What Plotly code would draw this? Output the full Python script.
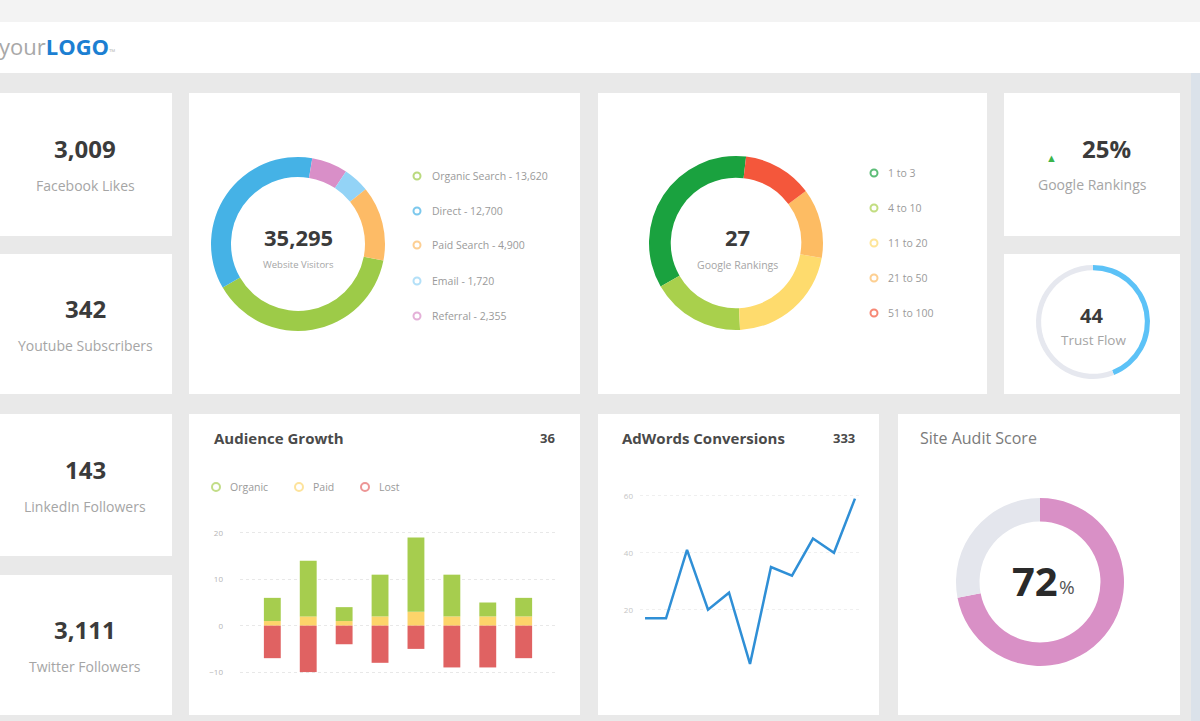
import plotly.graph_objects as go

W, H = 1200, 721

# ---------------- data ----------------
kpi_values = ["3,009", "342", "143", "3,111"]
kpi_labels = ["Facebook Likes", "Youtube Subscribers", "LinkedIn Followers", "Twitter Followers"]

visitor_total = "35,295"
visitor_labels = ["Organic Search", "Direct", "Paid Search", "Email", "Referral"]
visitor_values = [13620, 12700, 4900, 1720, 2355]
visitor_colors = ["#9dcb48", "#45b2e6", "#fdbb66", "#93d3f6", "#d98fc8"]
visitor_draw_order = [0, 1, 4, 3, 2]   # clockwise order around the ring

rank_total = "27"
rank_labels = ["1 to 3", "4 to 10", "11 to 20", "21 to 50", "51 to 100"]
rank_values = [9.5, 4.7, 5.8, 3.5, 3.5]
rank_colors = ["#1aa23f", "#a9d04c", "#fedb6d", "#fdbc63", "#f4573b"]

ranking_change = "25%"
trust_flow = 44
trust_max = 100

audience_total = "36"
aud_cats = ["1", "2", "3", "4", "5", "6", "7", "8"]
aud_organic = [5, 12, 3, 9, 16, 9, 3, 4]
aud_paid = [1, 2, 1, 2, 3, 2, 2, 2]
aud_lost = [-7, -10, -4, -8, -5, -9, -9, -7]
aud_ticks = [-10, 0, 10, 20]

adwords_total = "333"
adwords_days = list(range(11))
adwords_values = [17, 17, 41, 20, 26, 1, 35, 32, 45, 40, 59]
adwords_ticks = [20, 40, 60]

audit_score = 72

# ---------------- helpers ----------------
def fx(x):
    return x / W

def fy(y):
    return 1 - y / H

FONT = "Open Sans"
shapes = []
annotations = []

def rect(x0, y0, x1, y1, color):
    shapes.append(dict(type="rect", xref="paper", yref="paper",
                       x0=fx(x0), x1=fx(x1), y0=fy(y1), y1=fy(y0),
                       fillcolor=color, line=dict(width=0), layer="below"))

def text(x, y, s, size, color, anchor="center", bold=False):
    if bold:
        s = "<b>" + s + "</b>"
    annotations.append(dict(x=fx(x), y=fy(y), xref="paper", yref="paper", text=s,
                            showarrow=False, xanchor=anchor, yanchor="middle",
                            font=dict(family=FONT, size=size, color=color)))

def dot(x, y, color, r=4):
    shapes.append(dict(type="circle", xref="paper", yref="paper",
                       x0=fx(x - r), x1=fx(x + r), y0=fy(y + r), y1=fy(y - r),
                       fillcolor="rgba(255,255,255,0)", line=dict(width=2, color=color),
                       opacity=0.7, layer="above"))

# ---------------- background & cards ----------------
rect(0, 0, 1200, 22, "#f3f3f3")
rect(0, 22, 1200, 73, "#ffffff")
rect(1191, 73, 1200, 721, "#dbe2ea")

cards = [(0, 93, 172, 236), (0, 254, 172, 394), (0, 414, 172, 556), (0, 575, 172, 715),
         (189, 93, 580, 394), (598, 93, 987, 394), (1004, 93, 1180, 236), (1004, 254, 1180, 394),
         (189, 414, 580, 715), (598, 414, 879, 715), (898, 414, 1180, 715)]
for c in cards:
    rect(*c, "#ffffff")

# logo
annotations.append(dict(x=fx(-3), y=fy(46), xref="paper", yref="paper",
                        text="<span style='color:#a8a8a8'>your</span><b style='color:#1c7fd2'>LOGO</b><span style='color:#bbbbbb;font-size:8px'>™</span>",
                        showarrow=False, xanchor="left", yanchor="middle",
                        font=dict(family=FONT, size=22)))

# KPI cards
kpi_y = [148, 308, 469, 629]
for v, l, y in zip(kpi_values, kpi_labels, kpi_y):
    text(85, y, v, 24, "#3b3b3b", bold=True)
    text(85, y + 37, l, 14, "#a5a5a5")

# Google rankings change card
annotations.append(dict(x=fx(1059), y=fy(148), xref="paper", yref="paper", text="▲",
                        showarrow=False, font=dict(family=FONT, size=11, color="#3bb54a")))
text(1106, 148, ranking_change, 24, "#3b3b3b", bold=True)
text(1092, 184, "Google Rankings", 14, "#a5a5a5")

# ---------------- donuts ----------------
data = []

def donut(values, colors, cx, cy, r, hole, rotation=0, direction="clockwise"):
    data.append(go.Pie(values=values, marker=dict(colors=colors, line=dict(width=0)),
                       hole=hole, sort=False, direction=direction, rotation=rotation,
                       textinfo="none", hoverinfo="skip", showlegend=False,
                       domain=dict(x=[fx(cx - r), fx(cx + r)], y=[fy(cy + r), fy(cy - r)])))

donut([visitor_values[i] for i in visitor_draw_order],
      [visitor_colors[i] for i in visitor_draw_order], 298, 244, 87, 0.77, rotation=101)
text(298, 237, visitor_total, 22, "#3b3b3b", bold=True)
text(298, 264, "Website Visitors", 9.5, "#a5a5a5")
legend_y = [176, 211, 245, 281, 316]
for lab, val, col, y in zip(visitor_labels, visitor_values, visitor_colors, legend_y):
    dot(417, y, col, 3.5)
    text(430, y, f"{lab} - {val:,}", 10.5, "#9a9a9a", anchor="left")

donut(rank_values, rank_colors, 736, 243, 87, 0.75, rotation=-120, direction="counterclockwise")
text(737, 237, rank_total, 22, "#3b3b3b", bold=True)
text(737, 265, "Google Rankings", 10.5, "#a5a5a5")
legend_y2 = [173, 208, 243, 278, 313]
for lab, col, y in zip(rank_labels, rank_colors, legend_y2):
    dot(874, y, col, 3.5)
    text(886, y, lab, 10.5, "#9a9a9a", anchor="left")

donut([trust_flow, trust_max - trust_flow], ["#5cc2f7", "#e6e8ef"], 1093, 322, 57, 0.91)
text(1091, 315, str(trust_flow), 20, "#3b3b3b", bold=True)
text(1093, 340, "Trust Flow", 13.5, "#a5a5a5")

donut([audit_score, 100 - audit_score], ["#d990c6", "#e4e6ed"], 1040, 582, 84, 0.72)
text(1060, 580, str(audit_score), 40, "#2a2a2a", anchor="right", bold=True)
text(1057, 587, "%", 19, "#555555", anchor="left")
text(918, 438, "Site Audit Score", 16, "#7a7a7a", anchor="left")

# ---------------- Audience Growth ----------------
text(212, 438, "Audience Growth", 15, "#4a4a4a", anchor="left", bold=True)
text(557, 438, audience_total, 13, "#4a4a4a", anchor="right", bold=True)
for lab, col, x in [("Organic", "#a9cf55", 216), ("Paid", "#fdd873", 299), ("Lost", "#e66a6a", 365)]:
    dot(x, 487, col, 4)
    text(x + 12, 487, lab, 10.5, "#9a9a9a", anchor="left")

bar_w = 0.47
data.append(go.Bar(x=aud_cats, y=aud_paid, marker=dict(color="#fdd46a", line=dict(width=0)),
                   width=bar_w, xaxis="x", yaxis="y", showlegend=False, hoverinfo="skip"))
data.append(go.Bar(x=aud_cats, y=aud_organic, marker=dict(color="#a6cd4e", line=dict(width=0)),
                   width=bar_w, xaxis="x", yaxis="y", showlegend=False, hoverinfo="skip"))
data.append(go.Bar(x=aud_cats, y=aud_lost, marker=dict(color="#e06262", line=dict(width=0)),
                   width=bar_w, xaxis="x", yaxis="y", showlegend=False, hoverinfo="skip"))

# ---------------- AdWords Conversions ----------------
text(620, 438, "AdWords Conversions", 15, "#4a4a4a", anchor="left", bold=True)
text(857, 438, adwords_total, 13, "#4a4a4a", anchor="right", bold=True)
data.append(go.Scatter(x=adwords_days, y=adwords_values, mode="lines",
                       line=dict(color="#2f8fd6", width=2.5),
                       xaxis="x2", yaxis="y2", showlegend=False, hoverinfo="skip"))

layout = go.Layout(
    width=W, height=H, margin=dict(l=0, r=0, t=0, b=0),
    paper_bgcolor="#e9e9e9", plot_bgcolor="rgba(0,0,0,0)",
    barmode="relative", bargap=0.5,
    shapes=shapes, annotations=annotations,
    font=dict(family=FONT),
    xaxis=dict(domain=[fx(240), fx(556)], range=[-0.9, 7.9], showticklabels=False,
               showgrid=False, zeroline=False, showline=False, fixedrange=True),
    yaxis=dict(domain=[fy(686), fy(519)], range=[-13, 23], tickvals=aud_ticks,
               showgrid=True, gridcolor="#e8e8e8", griddash="dot", gridwidth=1,
               zeroline=False, showline=False, ticks="",
               tickfont=dict(size=8, color="#b5b5b5", family=FONT),
               ticklabelstandoff=16, fixedrange=True),
    xaxis2=dict(domain=[fx(640), fx(860)], range=[-0.24, 10.24], showticklabels=False,
                showgrid=False, zeroline=False, showline=False, fixedrange=True, anchor="y2"),
    yaxis2=dict(domain=[fy(681), fy(473)], range=[-5, 68], tickvals=adwords_ticks,
                showgrid=True, gridcolor="#efefef", griddash="dot", gridwidth=1,
                zeroline=False, showline=False, ticks="",
                tickfont=dict(size=8, color="#c5c5c5", family=FONT),
                ticklabelstandoff=6, fixedrange=True, anchor="x2"),
)

fig = go.Figure(data=data, layout=layout)
fig.write_html("out.html", config={"displayModeBar": False},
               post_script="document.body.style.margin='0px';document.body.style.overflow='hidden';")
